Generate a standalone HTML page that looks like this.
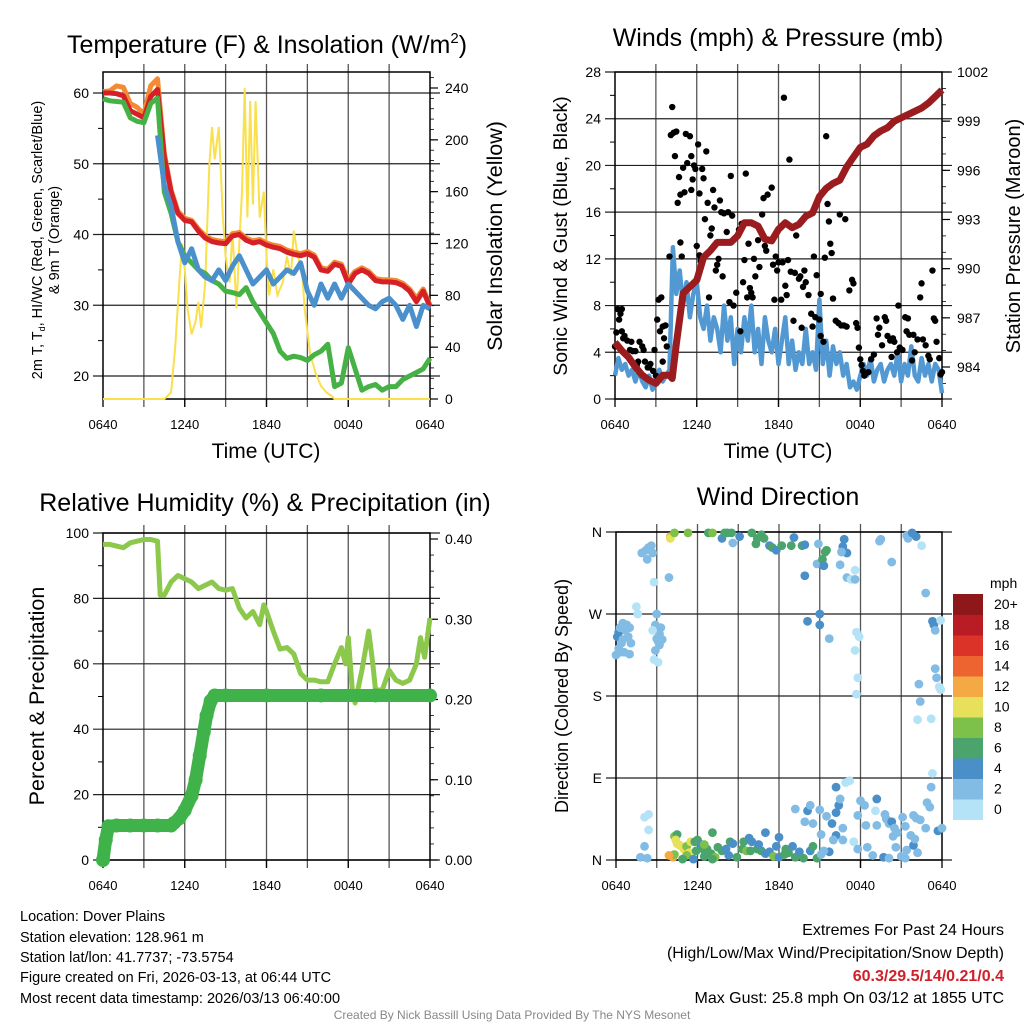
<!DOCTYPE html>
<html><head><meta charset="utf-8">
<style>
html,body{margin:0;padding:0;background:#fff;}
svg{display:block;font-family:"Liberation Sans",sans-serif;}
</style></head>
<body>
<svg id="chart" width="1024" height="1024" viewBox="0 0 1024 1024" xmlns="http://www.w3.org/2000/svg">
<rect x="0" y="0" width="1024" height="1024" fill="#fff"/>
<g id="layer"></g>
<text x="267" y="53" font-size="25" text-anchor="middle">Temperature (F) &amp; Insolation (W/m<tspan font-size="15" dy="-10">2</tspan><tspan dy="10">)</tspan></text>
<text x="778" y="46" font-size="25" text-anchor="middle">Winds (mph) &amp; Pressure (mb)</text>
<text x="265" y="511" font-size="25" text-anchor="middle">Relative Humidity (%) &amp; Precipitation (in)</text>
<text x="778" y="505" font-size="25" text-anchor="middle">Wind Direction</text>
<text x="266" y="458" font-size="21" text-anchor="middle">Time (UTC)</text>
<text x="778" y="458" font-size="21" text-anchor="middle">Time (UTC)</text>
<text transform="translate(42,240) rotate(-90)" font-size="14.5" text-anchor="middle">2m T, T<tspan font-size="9" dy="3">d</tspan><tspan dy="-3">, HI/WC (Red, Green, Scarlet/Blue)</tspan></text>
<text transform="translate(59,240) rotate(-90)" font-size="14.5" text-anchor="middle">&amp; 9m T (Orange)</text>
<text transform="translate(502,236) rotate(-90)" font-size="21.5" text-anchor="middle">Solar Insolation (Yellow)</text>
<text transform="translate(567,236) rotate(-90)" font-size="19.5" text-anchor="middle">Sonic Wind &amp; Gust (Blue, Black)</text>
<text transform="translate(1020,236) rotate(-90)" font-size="20" text-anchor="middle">Station Pressure (Maroon)</text>
<text transform="translate(44,696) rotate(-90)" font-size="21.5" text-anchor="middle">Percent &amp; Precipitation</text>
<text transform="translate(568,696) rotate(-90)" font-size="18" text-anchor="middle">Direction (Colored By Speed)</text>
<g font-size="14.5">
<text x="20" y="921">Location: Dover Plains</text>
<text x="20" y="942">Station elevation: 128.961 m</text>
<text x="20" y="962">Station lat/lon: 41.7737; -73.5754</text>
<text x="20" y="982">Figure created on Fri, 2026-03-13, at 06:44 UTC</text>
<text x="20" y="1003">Most recent data timestamp: 2026/03/13 06:40:00</text>
</g>
<g font-size="16" text-anchor="end">
<text x="1004" y="935">Extremes For Past 24 Hours</text>
<text x="1004" y="958">(High/Low/Max Wind/Precipitation/Snow Depth)</text>
<text x="1004" y="981" fill="#d0202a" font-weight="bold">60.3/29.5/14/0.21/0.4</text>
<text x="1004" y="1003">Max Gust: 25.8 mph On 03/12 at 1855 UTC</text>
</g>
<text x="512" y="1019" font-size="12" fill="#888" text-anchor="middle">Created By Nick Bassill Using Data Provided By The NYS Mesonet</text>
</svg>
<script>
// ---------- DATA ----------
const timeTicks = ["0640","1240","1840","0040","0640"];
const tempRed = [60,60,59.9,59.6,57.5,57,56.5,59.5,60.5,51,46,43,42,41.8,40.5,39.5,39,38.8,38.7,39.8,40,39.2,38.8,39,38.5,38.2,38,37.5,37.2,37,37.3,36.8,35,34.8,35.8,35.5,33,34.5,35,34.5,33.5,33.3,33.3,33.2,32.8,32,30.5,32,29.8];
const temp9m = [60.2,60.3,61,60.8,58.5,58,57,61,62,51.5,46.3,43.3,42.3,42,40.8,39.8,39.3,39.1,39,40.1,40.3,39.5,39.1,39.3,38.8,38.5,38.3,37.8,37.5,37.3,37.6,37.1,35.3,35.1,36.1,35.8,33.6,34.8,35.3,34.8,33.8,33.6,33.6,33.5,33.1,32.3,31,32.3,30];
const tempDew = [59.2,58.9,58.8,58.7,56.5,56,55.8,58.5,59.3,46,43,39,37,36,35,34.5,33.5,33,32,31.8,31.5,32.5,30.5,29,27.5,26,23.5,22.5,22.8,22.6,22.2,23,23.5,24.5,18.5,19,24,21,18,18.5,18.8,18,18.5,18.5,19.5,20,20.5,21,22.5];
const windChill = [null,null,null,null,null,null,null,null,54,47,44,39,36,38,35,34,33.5,35,33.5,35.5,37,35,33,34,35,33,34,35,34.5,36,32,30,33,31,33,31,33,32,31,30,29.5,30.5,31,30,28,30,27,30,29.5];
const solarHours = [0,4.5,5,5.3,5.6,5.8,6,6.2,6.5,6.8,7,7.2,7.5,7.8,8,8.2,8.5,8.8,9,9.3,9.5,9.8,10,10.2,10.4,10.6,10.8,11,11.2,11.5,11.8,12,12.2,12.5,12.8,13.2,13.5,13.8,14,14.3,14.6,14.8,15.2,15.6,16,16.4,16.7,17,24];
const solarVals = [0,0,5,40,90,120,100,70,50,60,75,55,90,180,210,185,210,140,110,90,130,70,120,160,240,140,230,150,230,140,160,110,80,100,80,90,110,95,130,110,100,70,35,20,10,5,3,0,0];
const windSpeed = [2,3.5,2.5,3,2,2.5,1.5,2.5,1.5,1,2,0.8,1.5,2.5,1.5,2,2.5,13,9,11,8,10,7,9,10,7,6,8,5,7,6,4,8,5,7,3,6,4,7,5,8,4,6,3,7,5,4,6,3,5,7,3,5,2.5,4,3,6,3,4,2.5,8.5,3,5,2,4.5,3,4,2,3,1,1.5,0.8,2,3,2,3.5,1.5,2.5,3,1.5,2.5,3,2,4,1.5,3,2,4.5,2,1.5,3.5,2,3,1.5,3,2.5,0.5];
const pressHours = [0,0.5,1,1.5,2,2.5,3,3.5,4,4.2,4.5,5,5.5,6,6.5,7,7.5,8,8.5,9,9.5,10,10.5,11,11.5,12,12.5,13,13.5,14,14.5,15,15.5,16,16.5,17,17.5,18,18.5,19,19.5,20,20.5,21,21.5,22,22.5,23,23.5,24];
const pressVals = [985.5,985,984.6,984,983.5,983.2,983,983.5,983.5,983.3,985.4,988.5,988.9,989.3,990.7,991.1,991.6,991.6,991.6,992,992.8,992.8,992.6,991.8,991.7,992.4,992.8,992.5,992.7,993.2,993.4,994.4,994.9,995.2,995.4,996.2,996.8,997.4,997.6,998.1,998.4,998.6,999,999.2,999.4,999.6,999.8,1000.1,1000.5,1000.9];
const gustHours = [0,0.1,0.2,0.3,0.4,0.5,0.6,0.7,0.9,1.2,1.1,1.3,1.5,1.7,2.0,1.8,2.1,1.6,2.2,2.4,2.6,2.8,2.5,0.5,3.0,2.9,3.1,3.2,3.4,3.3,3.5,3.7,3.6,3.5,3.8,4.0,4.1,4.2,4.3,4.4,4.5,4.6,4.7,4.8,4.8,4.9,5.0,5.1,5.2,5.3,5.5,5.6,5.6,5.7,5.8,5.9,6.0,6.1,6.2,6.2,6.3,6.4,6.5,6.6,6.7,6.9,6.8,7.0,7.1,7.2,7.3,7.4,7.5,7.6,7.8,7.7,7.9,8.0,8.2,8.3,8.4,8.5,8.6,8.7,8.9,9.1,9.3,9.2,9.4,9.5,9.6,9.8,9.7,9.9,10.0,10.1,10.2,10.3,10.5,10.6,10.8,10.9,11.0,11.1,11.2,11.5,11.6,11.7,11.8,11.9,12.0,12.2,12.3,12.4,12.5,12.6,12.7,12.8,12.9,13.1,13.2,13.3,13.5,13.6,13.7,13.8,13.9,14.0,14.2,14.4,14.5,14.6,14.7,14.8,15.0,15.1,15.3,15.1,15.4,15.5,15.6,15.7,15.8,15.9,16.0,16.2,16.4,16.5,16.6,16.8,16.9,17.0,17.2,17.4,17.5,17.7,17.8,17.9,18.0,18.1,18.2,18.3,18.4,18.6,18.8,19.0,19.2,19.3,19.4,19.6,19.8,19.9,20.0,20.2,20.3,20.4,20.5,20.7,20.8,20.9,21.1,21.3,21.4,21.5,21.6,21.8,22.0,21.9,22.2,22.4,22.5,22.6,22.8,23.0,23.1,23.3,23.4,23.5,23.6,23.8,24,23.9];
const gustVals = [4.5,5.7,7.7,6.8,7.3,5.8,5.2,5.4,5,4.9,4.2,4.1,4.1,3.2,4.5,4.9,4.2,2.9,3.2,2.7,3,2.4,2.7,7.7,2,4.2,6.8,8.5,8.7,5.8,6.2,6.3,5.2,3.2,4.5,12.2,22.6,25,22.8,20.8,22.9,16.8,19,17.5,13.4,12.2,19.8,17.7,22.7,20.2,22.5,20.8,17.9,18.8,20,19.7,13.1,21.8,17.6,12.3,11.8,19.7,18.9,15.4,21.2,8.7,16.8,14,14.6,17.9,16.4,11,11.5,12,16,17,10.5,15.9,14.3,16,8.3,19.1,15.7,8,9.1,14.5,15,5.8,10,11.9,19.3,13.3,8.7,9.5,9.1,8.7,12,10.5,13.6,11.3,15.8,17.2,13.1,12.7,17.5,18.1,11.5,8.5,12.2,11,11.7,8.5,11.7,25.8,9.7,8.9,11.9,20.5,10.9,6.7,10.8,14,10.3,10.5,6.1,9.6,11,10,8.9,7.3,6.2,12.2,7,10.6,6.8,5.4,4.9,9,12.1,22.5,16.7,15.2,13.3,12.5,8.6,6.7,6.5,15.8,6.3,6.3,15.4,6.2,9.3,10.2,9.9,6.5,6.1,4.4,3.4,2.9,2.4,2,2.2,2.3,3.4,3.8,6.9,5.5,6.1,4.6,7,6.7,5.4,5,3.6,5.2,4.9,4,8,4.4,4.2,7,5.8,6.9,5.5,3.3,4,5.5,5.1,8.7,9.9,5.1,4.6,3.7,3.4,11,6.9,6.7,4.9,3.5,2.3,2.1];
const rhHours = [0,0.5,1,1.5,2,2.5,3,3.5,4,4.2,4.5,5,5.5,6,6.5,7,7.5,8,8.5,9,9.5,10,10.5,11,11.5,11.8,12,12.5,13,13.5,14,14.5,15,15.5,16,16.5,17,17.5,17.8,18,18.3,18.5,19,19.5,19.8,20,20.5,21,21.5,22,22.5,23,23.3,23.6,24];
const rhVals = [96.5,96.5,96,95.5,97,97.5,98,98,97.5,81,81,85,87,86,85,83,84,85,83,82.5,83,77,74,76,72,78,76,70,64.5,65,63,57,55,55,54.5,54.5,60,65,60,68,52,48,58,70,60,52,52,58,55,54,55,60,68,62,74];
const precipHours = [0,0.2,0.4,1,2,3,4,5,5.2,5.6,6,6.5,6.8,7.1,7.4,7.6,7.9,8.2,9,12,16,20,24];
const precipVals = [0,0.025,0.042,0.043,0.043,0.043,0.043,0.043,0.046,0.052,0.062,0.08,0.1,0.13,0.16,0.18,0.198,0.205,0.205,0.205,0.205,0.205,0.205];
const dirHours = [1.9,2.2,2.3,2.6,2.4,2.7,2.8,1.5,1.6,3.0,3.9,4.0,4.0,4.3,5.3,6.8,7.1,7.8,8,8.2,8.5,8.6,9.1,10,10.3,10.4,10.7,10.9,11.3,11.5,11.8,12.2,13.1,13.7,13.9,12.9,13.9,14.1,14.9,14.8,15.4,15.5,15.2,15.3,15,15,15.7,16.5,16.8,16.7,17,16.6,17,17.3,17.6,17.6,17.6,17.7,17.9,17.8,17.7,19.4,19.5,20.3,21.6,21.4,21.5,21.8,22.1,22.5,22.8,23.3,23.4,23.5,23.9,23.5,23.6,23.8,23.9,22.3,22.4,22.2,23.2,
0.1,0.2,0.3,0.5,0.7,1.0,1.1,0.9,0.4,0.6,1.0,0,0.2,0.5,0.8,0.3,2.9,3.3,3.2,3.1,3.4,3.0,3.2,2.9,2.8,3.1,2.7,
16.2,16.4,16.5,16.2,16.9,17.2,18,18.3,17.8,18.4,19.2,19.1,19.2,19.8,19.9,20.1,20.3,20.5,20.4,20.7,21.1,21.3,21.7,21.9,22.1,22.4,22.8,22.9,23.1,23.2,23.3,23.7,24,16.7,16.2,16.7,17.5,17.8,18.5,18.9,19.7,20.1,20.6,21.0,21.4,21.9,22.0,22.2,21.3,15.0,15.5,15.9,15.1,14.5,14.1,14.3,13.9,13.2,15.7,15.3,16.0,
2.1,2.4,2.4,2.1,1.8,2.3,
4.2,4.3,4.5,4.4,4.5,4.7,5.0,5.2,5.5,5.4,5.2,5.8,6.0,6.3,5.9,6.4,6.5,7.1,6.7,7.0,7.3,7.5,7.8,8.1,8.3,8.4,8.6,8.9,9.3,9.4,9.6,9.8,10.0,9.9,10.4,10.7,11.0,11.3,11.6,11.8,12.0,12.0,12.4,12.5,12.7,13.2,13.0,13.5,13.8,14.3,14.5,14.8,15.1,11.0,10.5,7.1,5.7,4.9,6.5,4.3,3.9];
const dirDeg = [337,340,330,345,343,337,305,278,270,270,310,355,353,359,359,359,359,353,359,359,359,348,355,359,347,353,357,353,345,343,340,345,354,345,346,345,312,262,347,325,338,340,330,323,270,258,243,324,352,344,337,338,310,308,308,318,230,250,245,200,182,350,352,327,357,356,353,359,355,345,293,262,258,252,263,210,200,190,187,193,174,154,155,
245,250,255,260,252,255,238,245,238,228,226,225,232,242,258,228,258,255,248,240,242,243,236,230,220,217,252,
80,60,67,52,85,87,65,60,49,38,67,54,38,50,45,40,42,35,26,30,47,37,27,49,46,44,35,63,58,80,95,32,35,35,27,22,20,12,14,5,3,2,14,4,11,16,23,8,2,55,48,40,28,40,54,60,42,56,9,10,22,
47,50,33,15,3,2,
3,26,28,22,18,16,12,15,20,8,5,20,22,17,10,12,4,30,12,7,3,14,10,12,5,20,18,3,12,20,10,24,20,10,12,10,7,9,4,15,25,3,6,12,8,3,15,9,2,10,15,2,6,30,17,1,1,1,17,6,5];
const dirSpeed = [2,2,2,2,2,2,1,1,1,3,3,12,10,8,8,6,8,4,6,6,6,2,4,6,6,6,6,6,4,6,4,6,4,6,4,6,4,4,2,2,6,6,6,4,4,4,2,2,4,4,4,2,2,1,2,1,1,1,1,1,0,2,2,2,1,2,2,4,4,0,2,4,4,2,1,2,2,1,1,2,2,1,1,
4,4,2,2,2,2,2,2,2,2,2,2,2,2,2,2,2,2,2,2,2,2,2,2,1,1,1,
4,4,2,4,1,1,2,2,2,2,4,1,2,2,2,2,4,2,2,2,2,2,2,2,2,2,2,2,2,2,1,4,2,2,4,2,1,2,2,2,4,2,2,2,2,4,2,2,2,2,2,4,2,2,4,2,2,2,4,2,2,
1,1,1,2,2,2,
12,8,6,10,10,10,10,8,10,10,8,6,6,4,6,6,6,6,6,6,8,6,6,4,4,6,4,6,6,6,8,4,4,6,6,6,4,4,8,4,4,4,6,6,6,6,4,4,6,4,6,6,2,4,4,6,4,6,8,8,12];
const speedColors = ["#b4e2f6","#82bce4","#4a8fc7","#4aa46c","#7dc14b","#e6e05b","#f5a945","#ee6431","#db3328","#ba1c25","#8e1719"];
const speedLabels = ["0","2","4","6","8","10","12","14","16","18","20+"];

// ---------- HELPERS ----------
const NS = "http://www.w3.org/2000/svg";
const layer = document.getElementById("layer");
function mk(tag, attrs, parent) {
  const e = document.createElementNS(NS, tag);
  for (const k in attrs) e.setAttribute(k, attrs[k]);
  (parent || layer).appendChild(e);
  return e;
}
function xScale(p, h) { return p.x0 + h / 24 * (p.x1 - p.x0); }
function linY(v, vmin, vmax, y0, y1) { return y0 + (v - vmin) / (vmax - vmin) * (y1 - y0); }

const P1 = {x0:103, x1:430, y0:72, y1:399};
const P2 = {x0:615, x1:942, y0:72, y1:399};
const P3 = {x0:103, x1:430, y0:533, y1:860};
const P4 = {x0:616, x1:942, y0:532, y1:860};

function tempY(v) { return linY(v, 60, 20, 93, 376); }
function solarY(v) { return linY(v, 0, 240, 399, 88); }
function windY(v) { return linY(v, 0, 28, 399, 72); }
function pressY(v) { return linY(v, 984, 1002, 367, 72); }
function rhY(v) { return linY(v, 0, 100, 860, 533); }
function precipY(v) { return linY(v, 0, 0.4, 860, 539); }
function dirY(v) { return linY(v, 0, 360, 860, 532); }

function frame(p, name) {
  const g = mk("g", {});
  
  
  for (let i = 1; i < 8; i++) {
    const x = p.x0 + i * (p.x1 - p.x0) / 8;
    const l = mk("line", {x1:x, x2:x, y1:p.y0 - 8, y2:p.y1 + 8, stroke:"#555", "stroke-width":1.3}, g);
    
    
  }
  timeTicks.forEach((t, i) => {
    const x = p.x0 + i * (p.x1 - p.x0) / 4;
    mk("line", {x1:x, x2:x, y1:p.y1, y2:p.y1 + 8, stroke:"#000", "stroke-width":1.3}, g);
    const tx = mk("text", {x:x, y:p.y1 + 30, "font-size":13, "text-anchor":"middle"}, g);
    tx.textContent = t;
    
    
  });
  return g;
}
function hGrid(p, y, g) {
  mk("line", {x1:p.x0 - 10, x2:p.x1 + 10, y1:y, y2:y, stroke:"#222", "stroke-width":1.2}, g);
}
function leftTick(p, y, label, g) {
  const t = mk("text", {x:p.x0 - 14, y:y + 5, "font-size":14, "text-anchor":"end"}, g);
  t.textContent = label;
  
  
}
function rightTick(p, y, label, g) {
  const t = mk("text", {x:p.x1 + 15, y:y + 5, "font-size":14, "text-anchor":"start"}, g);
  t.textContent = label;
  
  
}
function border(p, g) {
  mk("rect", {x:p.x0, y:p.y0, width:p.x1 - p.x0, height:p.y1 - p.y0, fill:"none", stroke:"#000", "stroke-width":1.5}, g);
}
function pathFrom(hours, vals, p, yf) {
  let d = "", pen = false;
  for (let i = 0; i < vals.length; i++) {
    if (vals[i] === null) { pen = false; continue; }
    const x = xScale(p, hours[i]), y = yf(vals[i]);
    d += (pen ? "L" : "M") + x.toFixed(1) + "," + y.toFixed(1);
    pen = true;
  }
  return d;
}
function halfHours(n) { const a = []; for (let i = 0; i < n; i++) a.push(i * 24 / (n - 1)); return a; }

// ---------- PANEL 1 ----------
const g1 = frame(P1, "temperature-panel");
[20,30,40,50,60].forEach(v => { hGrid(P1, tempY(v), g1); leftTick(P1, tempY(v), String(v), g1); });
[25,35,45,55].forEach(v => mk("line", {x1:P1.x0 - 5, x2:P1.x0, y1:tempY(v), y2:tempY(v), stroke:"#000"}, g1));
[0,40,80,120,160,200,240].forEach(v => {
  mk("line", {x1:P1.x1, x2:P1.x1 + 8, y1:solarY(v), y2:solarY(v), stroke:"#000", "stroke-width":1.2}, g1);
  rightTick(P1, solarY(v), String(v), g1);
});
for (let v = 8; v < 250; v += 8) mk("line", {x1:P1.x1, x2:P1.x1 + 4, y1:solarY(v), y2:solarY(v), stroke:"#000", "stroke-width":0.8}, g1);
const hh1 = halfHours(tempRed.length);
const sol = mk("path", {d:pathFrom(solarHours, solarVals, P1, solarY), fill:"none", stroke:"#f9e04c", "stroke-width":2});


const o9 = mk("path", {d:pathFrom(hh1, temp9m, P1, tempY), fill:"none", stroke:"#f58a35", "stroke-width":5, "stroke-linejoin":"round"});


const rl = mk("path", {d:pathFrom(hh1, tempRed, P1, tempY), fill:"none", stroke:"#d42026", "stroke-width":5, "stroke-linejoin":"round"});


const dl = mk("path", {d:pathFrom(hh1, tempDew, P1, tempY), fill:"none", stroke:"#46b246", "stroke-width":5, "stroke-linejoin":"round"});


const wl = mk("path", {d:pathFrom(hh1, windChill, P1, tempY), fill:"none", stroke:"#4a90cc", "stroke-width":5, "stroke-linejoin":"round"});


border(P1, g1);

// ---------- PANEL 2 ----------
const g2 = frame(P2, "wind-panel");
[0,4,8,12,16,20,24,28].forEach(v => { hGrid(P2, windY(v), g2); leftTick(P2, windY(v), String(v), g2); });
[2,6,10,14,18,22,26].forEach(v => mk("line", {x1:P2.x0 - 5, x2:P2.x0, y1:windY(v), y2:windY(v), stroke:"#000"}, g2));
[984,987,990,993,996,999,1002].forEach(v => {
  mk("line", {x1:P2.x1, x2:P2.x1 + 8, y1:pressY(v), y2:pressY(v), stroke:"#000", "stroke-width":1.2}, g2);
  rightTick(P2, pressY(v), String(v), g2);
});
for (let v = 983; v < 1002; v++) mk("line", {x1:P2.x1, x2:P2.x1 + 4, y1:pressY(v), y2:pressY(v), stroke:"#000", "stroke-width":0.8}, g2);
const wsl = mk("path", {d:pathFrom(halfHours(windSpeed.length), windSpeed, P2, windY), fill:"none", stroke:"#5299d3", "stroke-width":4.5, "stroke-linejoin":"round"});


gustHours.forEach((h, i) => {
  const c = mk("circle", {cx:xScale(P2, h), cy:windY(gustVals[i]), r:3.2, fill:"#000"});
  
  
});
const pl = mk("path", {d:pathFrom(pressHours, pressVals, P2, pressY), fill:"none", stroke:"#9b1c1f", "stroke-width":7, "stroke-linejoin":"round"});


border(P2, g2);

// ---------- PANEL 3 ----------
const g3 = frame(P3, "humidity-panel");
[0,20,40,60,80,100].forEach(v => { hGrid(P3, rhY(v), g3); leftTick(P3, rhY(v), String(v), g3); });
[10,30,50,70,90].forEach(v => mk("line", {x1:P3.x0 - 5, x2:P3.x0, y1:rhY(v), y2:rhY(v), stroke:"#000"}, g3));
["0.00","0.10","0.20","0.30","0.40"].forEach(s => {
  const v = parseFloat(s);
  mk("line", {x1:P3.x1, x2:P3.x1 + 8, y1:precipY(v), y2:precipY(v), stroke:"#000", "stroke-width":1.2}, g3);
  rightTick(P3, precipY(v), s, g3);
});
for (let v = 0.02; v < 0.4; v += 0.02) mk("line", {x1:P3.x1, x2:P3.x1 + 4, y1:precipY(v), y2:precipY(v), stroke:"#000", "stroke-width":0.8}, g3);
const rhl = mk("path", {d:pathFrom(rhHours, rhVals, P3, rhY), fill:"none", stroke:"#8cc84b", "stroke-width":5, "stroke-linejoin":"round"});


const prl = mk("path", {d:pathFrom(precipHours, precipVals, P3, precipY), fill:"none", stroke:"#3fb34a", "stroke-width":13, "stroke-linejoin":"round", "stroke-linecap":"round"});


precipHours.forEach((h, i) => {
  const c = mk("circle", {cx:xScale(P3, h), cy:precipY(precipVals[i]), r:7, fill:"#3fb34a"});
  
  
});
border(P3, g3);

// ---------- PANEL 4 ----------
const g4 = frame(P4, "wind-direction-panel");
[["N",0],["E",90],["S",180],["W",270],["N",360]].forEach(([lab, v]) => {
  hGrid(P4, dirY(v), g4);
  leftTick(P4, dirY(v), lab, g4);
});
dirHours.forEach((h, i) => {
  const bin = Math.min(10, Math.floor(dirSpeed[i] / 2));
  const c = mk("circle", {cx:xScale(P4, h), cy:dirY(dirDeg[i]), r:4.4, fill:speedColors[bin]});
  
  
});
border(P4, g4);
const cb = mk("g", {});


const cbTop = 594, cbH = 20.5;
const mt = mk("text", {x:990, y:588, "font-size":14}, cb);
mt.textContent = "mph";
speedColors.forEach((c, i) => {
  const y = cbTop + (10 - i) * cbH;
  const r = mk("rect", {x:953, y:y, width:30, height:cbH + 0.5, fill:c}, cb);
  
  
  const t = mk("text", {x:994, y:y + 15, "font-size":14}, cb);
  t.textContent = speedLabels[i];
  
  
});
</script>
</body></html>
